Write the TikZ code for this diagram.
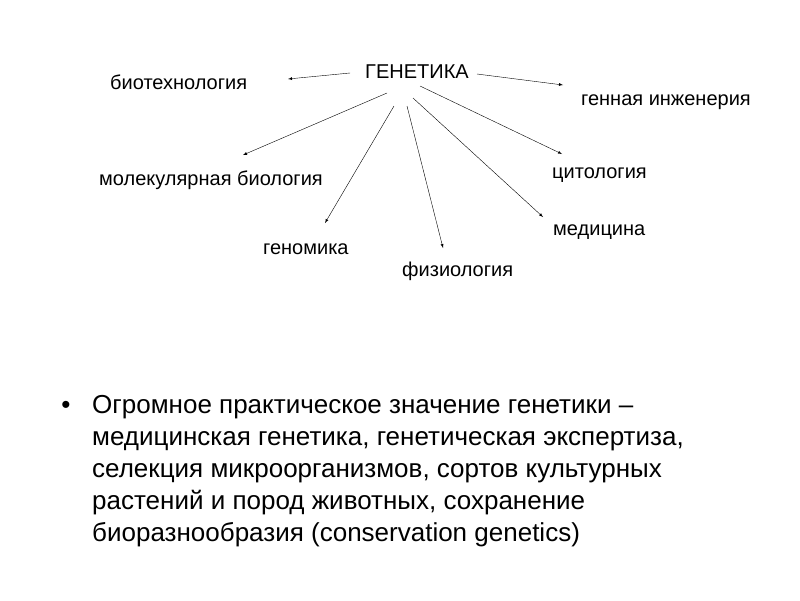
\documentclass[tikz,border=0pt]{standalone}
\usepackage{fontspec}
\setmainfont{Liberation Sans}
\tikzset{
	topic/.style={anchor=base west, inner sep=0pt, font=\fontsize{20}{24}\selectfont},
	link/.style={-latex, thin}
}
\begin{document}
\begin{tikzpicture}[x=1pt, y=-1pt]
	\useasboundingbox (0,0) rectangle (800,600);

	% centre and branches
	\node[topic] (gen) at (365,78)  {ГЕНЕТИКА};
	\node[topic] (bio) at (110,89)  {биотехнология};
	\node[topic] (eng) at (581,105) {генная инженерия};
	\node[topic] (mol) at (99,185)  {молекулярная биология};
	\node[topic] (cyt) at (552,178) {цитология};
	\node[topic] (gnm) at (263,254) {геномика};
	\node[topic] (phy) at (402,276) {физиология};
	\node[topic] (med) at (553,235) {медицина};

	% tails and tips of the arrows
	\coordinate (t-bio) at (350,73);  \coordinate (h-bio) at (288,79);
	\coordinate (t-eng) at (477,74);  \coordinate (h-eng) at (563,85);
	\coordinate (t-mol) at (387,93);  \coordinate (h-mol) at (243,155);
	\coordinate (t-gnm) at (394,106); \coordinate (h-gnm) at (325,223);
	\coordinate (t-phy) at (407,106); \coordinate (h-phy) at (443,248);
	\coordinate (t-med) at (413,98);  \coordinate (h-med) at (543,217);
	\coordinate (t-cyt) at (420,86);  \coordinate (h-cyt) at (562,154);

	% arrows
	\foreach \b in {bio,eng,mol,gnm,phy,med,cyt}
		\draw[link] (t-\b) -- (h-\b);

	% bullet text
	\node[anchor=base, inner sep=0pt, font=\fontsize{26}{32}\selectfont] (dot) at (66,413) {•};
	\node[anchor=north west, inner sep=0pt, align=left,
		font=\fontsize{26}{32}\selectfont] (txt) at (92,390.6)
		{\strut Огромное практическое значение генетики –\\
		 медицинская генетика, генетическая экспертиза,\\
		 селекция микроорганизмов, сортов культурных\\
		 растений и пород животных, сохранение\\
		 биоразнообразия (conservation genetics)};
\end{tikzpicture}
\end{document}
